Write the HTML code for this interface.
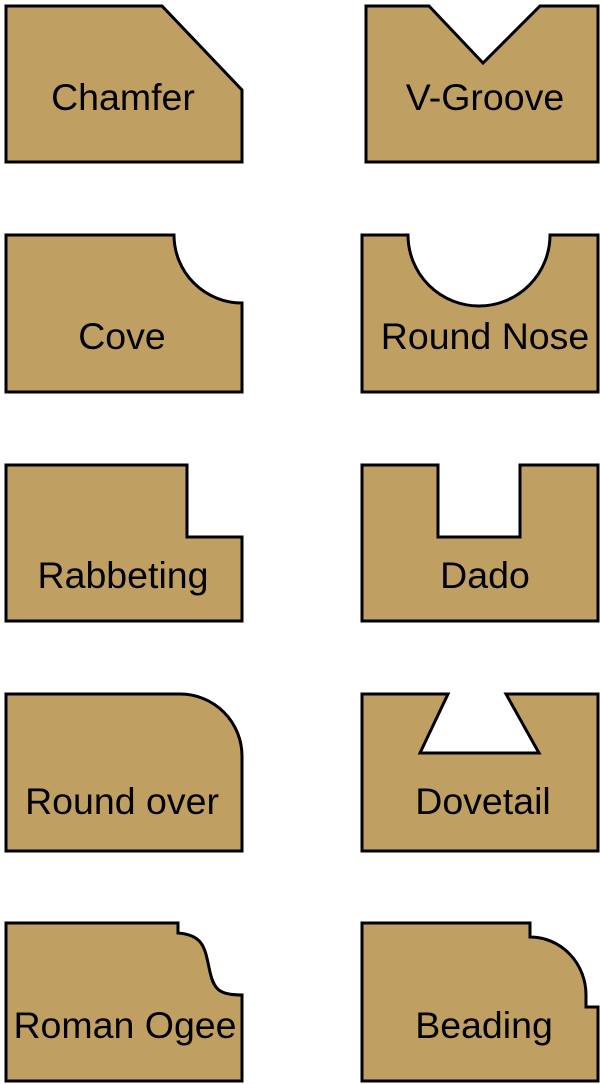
<!DOCTYPE html>
<html><head><meta charset="utf-8"><style>
html,body{margin:0;padding:0;background:#fff;}
svg{display:block;}
text{font-family:"Liberation Sans",sans-serif;font-size:37.5px;fill:#000;text-anchor:middle;}
path{fill:#c0a062;stroke:#000;stroke-width:3;stroke-linejoin:miter;}
</style></head><body>
<svg width="600" height="1084" viewBox="0 0 600 1084">
<path d="M6,6 H162 L242,90 V162 H6 Z"/>
<text x="123" y="110">Chamfer</text>
<path d="M366,6 H429 L483,63 L540,6 H598 V162 H366 Z"/>
<text x="485" y="110">V-Groove</text>
<path d="M6,235 H174 A68,68 0 0 0 242,303 V392 H6 Z"/>
<text x="122" y="349">Cove</text>
<path d="M362,235 H408 A71,71 0 0 0 550,235 H598 V392 H362 Z"/>
<text x="485" y="349">Round Nose</text>
<path d="M6,465 H187 V537 H242 V621 H6 Z"/>
<text x="123" y="588">Rabbeting</text>
<path d="M362,465 H438 V537 H520 V465 H598 V621 H362 Z"/>
<text x="485" y="588">Dado</text>
<path d="M6,694 H180 A62,62 0 0 1 242,756 V851 H6 Z"/>
<text x="122" y="814">Round over</text>
<path d="M362,694 H448 L420,753 H539 L506,694 H598 V851 H362 Z"/>
<text x="483" y="814">Dovetail</text>
<path d="M6,923 H178 V933 C205,935 205,950 210,972 C214,990 220,995 242,995 V1081 H6 Z"/>
<text x="125" y="1038">Roman Ogee</text>
<path d="M362,923 H530 V937 A56,58 0 0 1 586,995 V1007 H598 V1081 H362 Z"/>
<text x="484" y="1038">Beading</text>
</svg>
</body></html>
